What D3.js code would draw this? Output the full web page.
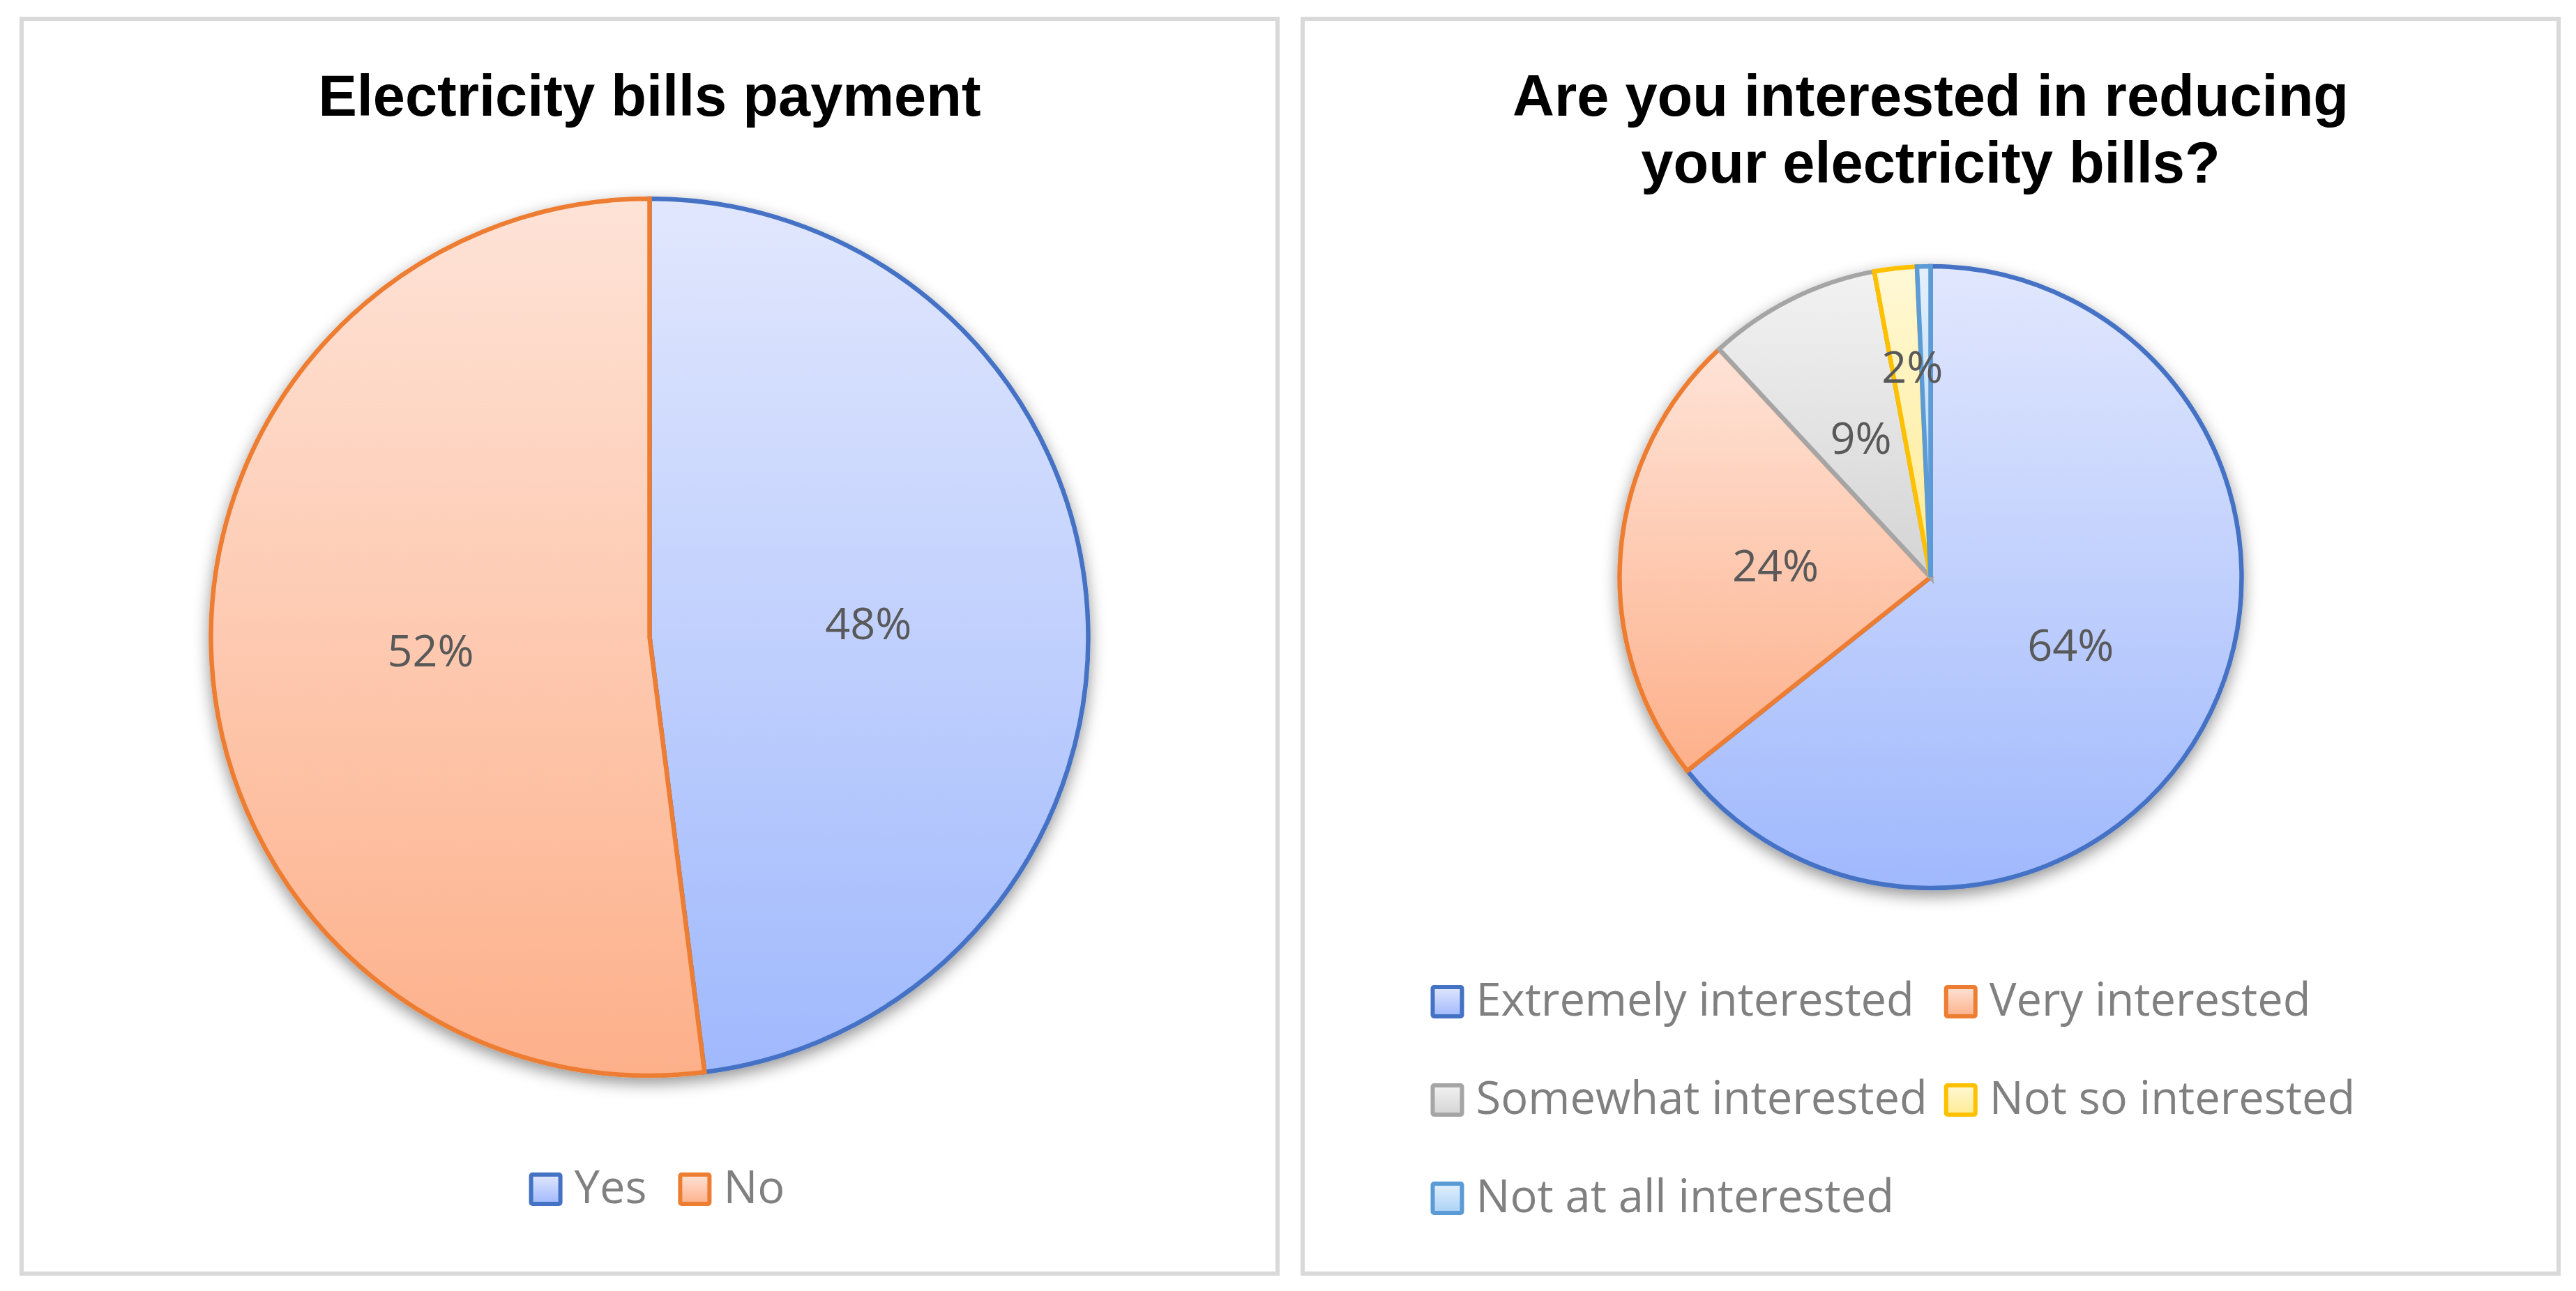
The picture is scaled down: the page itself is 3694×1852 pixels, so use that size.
<!DOCTYPE html>
<html>
<head>
<meta charset="utf-8">
<script src="https://cdn.jsdelivr.net/npm/d3@7"></script>
<style>
  html, body { margin: 0; padding: 0; background: #fff; }
  svg { display: block; }
</style>
</head>
<body>
<svg id="chart" width="3694" height="1852"></svg>
<script>
/* ── data ─────────────────────────────────────────── */

const billCategories = ["Yes", "No"];
const billValues     = [48, 52];

const interestCategories = [
  "Extremely interested",
  "Very interested",
  "Somewhat interested",
  "Not so interested",
  "Not at all interested"
];
const interestValues = [64.3, 23.8, 9.0, 2.2, 0.7];

/* ── style ────────────────────────────────────────── */

const strokeColors = ["#4472C4", "#ED7D31", "#A5A5A5", "#FFC000", "#5B9BD5"];
const fillTop      = ["#e1e7fd", "#fee3d7", "#f2f2f2", "#fff8d6", "#e3f0fc"];
const fillBottom   = ["#a0b9fd", "#fdb08a", "#d4d4d4", "#ffeb92", "#a9d1f7"];

const TITLE_FONT  = "'Liberation Sans', Arial, sans-serif";
const BODY_FONT   = "'Open Sans', Lato, sans-serif";
const LABEL_SIZE  = 63;
const LEGEND_SIZE = 65;

const svg = d3.select("#chart");
svg.append("rect").attr("width", 3694).attr("height", 1852).attr("fill", "#fff");

const defs = svg.append("defs");

strokeColors.forEach((c, i) => {
  const g = defs.append("linearGradient")
    .attr("id", `grad${i}`)
    .attr("x1", 0).attr("y1", 0).attr("x2", 0).attr("y2", 1);
  g.append("stop").attr("offset", "0%").attr("stop-color", fillTop[i]);
  g.append("stop").attr("offset", "100%").attr("stop-color", fillBottom[i]);
});

const shadow = defs.append("filter")
  .attr("id", "pieShadow")
  .attr("x", "-10%").attr("y", "-10%")
  .attr("width", "120%").attr("height", "125%");
shadow.append("feDropShadow")
  .attr("dx", 0).attr("dy", 8)
  .attr("stdDeviation", 11)
  .attr("flood-color", "#000")
  .attr("flood-opacity", 0.42);

/* ── panels ───────────────────────────────────────── */

const panels = [
  {
    x0: 28, x1: 1835,
    title: ["Electricity bills payment"],
    cats: billCategories, vals: billValues,
    cy: 914, r: 629,
    legend: { cols: 0, baseline: 1726, shift: 12 }
  },
  {
    x0: 1865, x1: 3672,
    title: ["Are you interested in reducing", "your electricity bills?"],
    cats: interestCategories, vals: interestValues,
    cy: 828, r: 446,
    legend: { cols: 2, baseline: 1457, rowStep: 141, left: -714 }
  }
];

const Y0 = 24, Y1 = 1830, BORDER = 6;

function drawPanel(p) {
  const cx = (p.x0 + p.x1) / 2;
  const g = svg.append("g");

  g.append("rect")
    .attr("x", p.x0 + BORDER / 2).attr("y", Y0 + BORDER / 2)
    .attr("width", p.x1 - p.x0 - BORDER).attr("height", Y1 - Y0 - BORDER)
    .attr("fill", "#fff")
    .attr("stroke", "#d9d9d9")
    .attr("stroke-width", BORDER);

  // title
  const t = g.append("text")
    .attr("x", cx).attr("y", 166)
    .attr("text-anchor", "middle")
    .attr("font-family", TITLE_FONT)
    .attr("font-weight", "bold")
    .attr("font-size", 83)
    .attr("fill", "#000");
  p.title.forEach((line, i) => {
    t.append("tspan").attr("x", cx).attr("dy", i === 0 ? 0 : 96).text(line);
  });

  // pie
  const pie = d3.pie().sort(null).value(d => d)(p.vals);
  const arc = d3.arc().innerRadius(0).outerRadius(p.r);
  const total = d3.sum(p.vals);

  const pg = g.append("g")
    .attr("transform", `translate(${cx},${p.cy})`)
    .attr("filter", "url(#pieShadow)");

  pg.selectAll("path.slice")
    .data(pie)
    .join("path")
    .attr("class", "slice")
    .attr("d", arc)
    .attr("fill", (d, i) => `url(#grad${i})`)
    .attr("stroke", (d, i) => strokeColors[i])
    .attr("stroke-width", 6.5)
    .attr("stroke-linejoin", "miter");

  // data labels: inside at half radius, thin slices pushed out, sub-1% hidden
  const lg = g.append("g").attr("transform", `translate(${cx},${p.cy})`);
  lg.selectAll("text")
    .data(pie.filter(d => d.value / total >= 0.01))
    .join("text")
    .attr("transform", d => {
      const a = (d.startAngle + d.endAngle) / 2;
      const thin = d.value / total < 0.05;
      const rr = p.r * (thin ? 0.68 : 0.5);
      return `translate(${rr * Math.sin(a) + (thin ? 8 : 0)},${-rr * Math.cos(a)})`;
    })
    .attr("text-anchor", "middle")
    .attr("dy", "0.36em")
    .attr("font-family", BODY_FONT)
    .attr("font-size", LABEL_SIZE)
    .attr("fill", "#595959")
    .text(d => `${Math.round(d.value / total * 100)}%`);

  // legend
  const MK = 42, GAP = 17, ITEM_GAP = 48;
  const leg = g.append("g");
  const items = p.cats.map((c, i) => {
    const ig = leg.append("g");
    ig.append("rect")
      .attr("width", MK).attr("height", MK)
      .attr("rx", 2)
      .attr("fill", `url(#grad${i})`)
      .attr("stroke", strokeColors[i])
      .attr("stroke-width", 6);
    const tx = ig.append("text")
      .attr("x", MK + 3 + GAP)
      .attr("y", 0)
      .attr("font-family", BODY_FONT)
      .attr("font-size", LEGEND_SIZE)
      .attr("fill", "#808080")
      .text(c);
    return { g: ig, w: MK + 3 + GAP + tx.node().getComputedTextLength() };
  });

  const L = p.legend;
  if (L.cols === 0) {
    const totalW = d3.sum(items, d => d.w) + ITEM_GAP * (items.length - 1);
    let x = cx + L.shift - totalW / 2;
    items.forEach(it => {
      it.g.attr("transform", `translate(${x},${L.baseline})`);
      it.g.select("rect").attr("x", 0).attr("y", -41);
      x += it.w + ITEM_GAP;
    });
  } else {
    const colW = d3.max(items, d => d.w) + 27;
    const left = cx + L.left;
    items.forEach((it, i) => {
      const col = i % L.cols, row = Math.floor(i / L.cols);
      it.g.attr("transform", `translate(${left + col * colW},${L.baseline + row * L.rowStep})`);
      it.g.select("rect").attr("x", 0).attr("y", -41);
    });
  }
}

panels.forEach(drawPanel);
</script>
</body>
</html>
